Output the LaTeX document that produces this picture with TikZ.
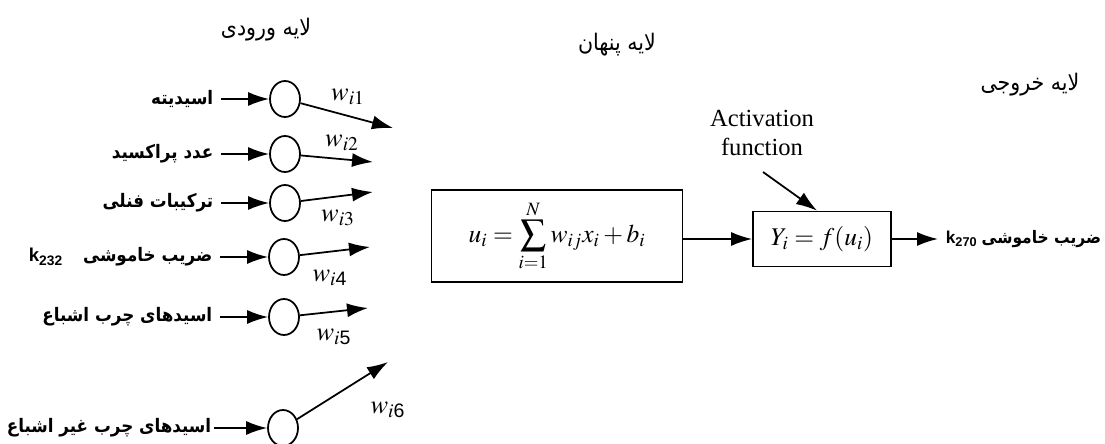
\documentclass[tikz,border=0pt]{standalone}
\usepackage{amsmath}
\usepackage{mathptmx}
\usepackage{fontspec}
\setmainfont{Liberation Serif}
\newfontfamily\farsifont[Script=Arabic, FakeStretch=0.9]{DejaVu Sans}
\newfontfamily\arialfont{Liberation Sans}
\TeXXeTstate=1
\usepackage{tikz}
\usetikzlibrary{arrows.meta}
\usetikzlibrary{shapes.geometric}
\usetikzlibrary{positioning}
\tikzset{>={Latex[length=4.2mm,width=2.8mm]}}
\tikzset{
  neuron/.style={ellipse, draw, line width=1pt, minimum width=0.6cm, minimum height=0.72cm, inner sep=0pt},
  inlabel/.style={font=\farsifont\bfseries\fontsize{10.6}{12}\selectfont, inner sep=0.14cm},
  layertitle/.style={font=\farsifont\fontsize{13}{15}\selectfont},
  wlabel/.style={font=\fontsize{15}{17}\selectfont, inner sep=0pt},
  blockbox/.style={draw, line width=1pt, font=\fontsize{14.5}{17}\selectfont},
}

\begin{document}
\begin{tikzpicture}[x=0.02cm, y=-0.02cm, line width=1pt]
                    \useasboundingbox (0,0) rectangle (1105,443);
                    % titles of the layers
                    \node[layertitle] (tin) at (266,30) {\beginR لایه ورودی\endR};
                    \node[layertitle] (thid) at (617,45) {\beginR لایه پنهان\endR};
                    \node[layertitle] (tout) at (1030,85) {\beginR لایه خروجی\endR};
                    % input neurons
                    \node[neuron] (n1) at (285,99) {};
                    \node[neuron] (n2) at (285,154) {};
                    \node[neuron] (n3) at (285,203) {};
                    \node[neuron] (n4) at (284,257) {};
                    \node[neuron] (n5) at (284,317) {};
                    \node[neuron] (n6) at (283,428) {};
                    \node[inlabel, left=0.96cm of n1] (in1) {\beginR اسیدیته\endR};
                    \node[inlabel, left=0.96cm of n2] (in2) {\beginR عدد پراکسید\endR};
                    \node[inlabel, left=0.96cm of n3] (in3) {\beginR ترکیبات فنلی\endR};
                    \node[inlabel, left=0.96cm of n4] (in4) {\beginR ضریب خاموشی\hspace{0.4cm}\beginL{\arialfont k\textsubscript{232}}\endL\endR};
                    \node[inlabel, left=0.96cm of n5] (in5) {\beginR اسیدهای چرب اشباع\endR};
                    \node[inlabel, inner sep=0.04cm, left=1.06cm of n6] (in6) {\beginR اسیدهای چرب غیر اشباع\endR};
                    \draw[->] (in1) -- (n1);
                    \draw[->] (in2) -- (n2);
                    \draw[->] (in3) -- (n3);
                    \draw[->] (in4) -- (n4);
                    \draw[->] (in5) -- (n5);
                    \draw[->] (in6) -- (n6);
                    % weights
                    \coordinate (e1) at (393,128);
                    \coordinate (e2) at (373,162);
                    \coordinate (e3) at (373,192);
                    \coordinate (e4) at (370,247);
                    \coordinate (e5) at (368,308);
                    \coordinate (e6) at (388,362);
                    \draw[->] (n1) -- (e1);
                    \draw[->] (n2) -- (e2);
                    \draw[->] (n3) -- (e3);
                    \draw[->] (n4) -- (e4);
                    \draw[->] (n5) -- (e5);
                    \draw[->] (n6) -- (e6);
                    \node[wlabel] (w1) at (348,97) {$w_{i1}$};
                    \node[wlabel] (w2) at (342,143) {$w_{i2}$};
                    \node[wlabel] (w3) at (338,218) {$w_{i3}$};
                    \node[wlabel] (w4) at (330,278) {$w_{i\text{\arialfont 4}}$};
                    \node[wlabel] (w5) at (334,337) {$w_{i\text{\arialfont 5}}$};
                    \node[wlabel] (w6) at (388,410) {$w_{i\text{\arialfont 6}}$};
                    % hidden and output blocks
                    \node[blockbox, minimum width=5.02cm, minimum height=1.84cm] (sumbox) at (557,236)
                      {$\displaystyle u_i=\sum_{i=1}^{N} w_{ij}x_i+b_i$};
                    \node[blockbox, minimum width=2.76cm, minimum height=1.1cm] (actbox) at (822,239)
                      {$Y_i=f(u_i)$};
                    \node[font=\fontsize{14}{17}\selectfont, align=center] (act) at (762,133) {Activation\\function};
                    \coordinate (a0) at (763,172);
                    \draw[->] (a0) -- ([xshift=-0.1cm]actbox.north);
                    \draw[->] (sumbox.east |- actbox.west) -- (actbox.west);
                    \node[inlabel, font=\farsifont\bfseries\fontsize{9.8}{12}\selectfont, anchor=west, inner sep=0.14cm] (out) at (938,239)
                      {\beginR ضریب خاموشی\hspace{0.08cm}\beginL{\arialfont k\textsubscript{270}}\endL\endR};
                    \draw[->] (actbox) -- (out);
                    \end{tikzpicture}
\end{document}
